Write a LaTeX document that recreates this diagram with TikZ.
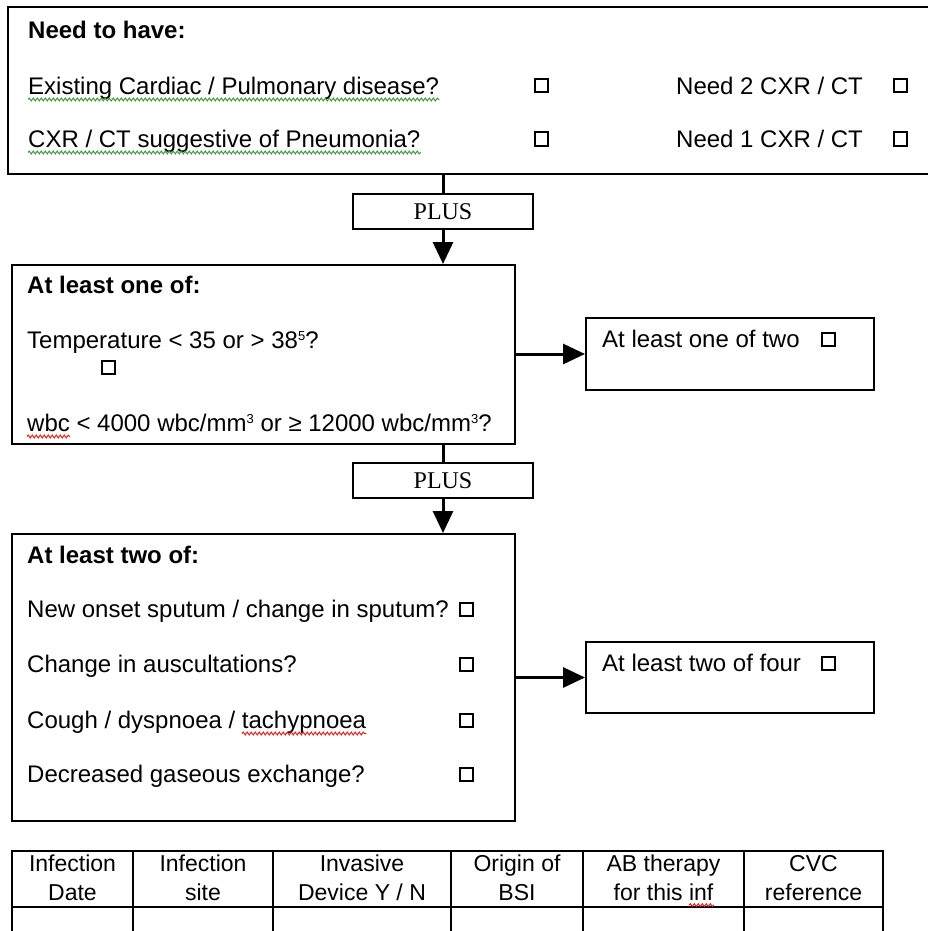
\documentclass[tikz,border=0pt]{standalone}
\usepackage{fontspec}
\setmainfont{Liberation Sans}
\newfontfamily\plusfont{Liberation Serif}
\usetikzlibrary{arrows.meta,positioning,calc,decorations.pathmorphing}
\newcommand{\bodysize}{\fontsize{24}{28}\selectfont}
\newcommand{\tabsize}{\fontsize{23}{29}\selectfont}
\newcommand{\supnum}[1]{\raisebox{8pt}{\fontsize{13}{13}\selectfont #1}}
\definecolor{spellGreen}{HTML}{3C9A3C}
\definecolor{spellRed}{HTML}{E02020}
\tikzset{
  panel/.style={draw, line width=2pt, inner sep=0pt},
  plusbox/.style={draw, line width=1.6pt, minimum width=180pt, minimum height=35pt, inner sep=0pt, font=\bodysize\plusfont},
  txt/.style={anchor=base west, inner sep=0pt, font=\bodysize},
  head/.style={txt, font=\bodysize\bfseries},
  chk/.style={draw, line width=2pt, minimum size=13pt, inner sep=0pt},
  link/.style={line width=3pt},
  flow/.style={line width=3pt, -{Triangle[length=22pt, width=20pt]}},
  spellgreen/.style={draw=spellGreen, line width=1pt, decorate, decoration={snake, amplitude=1.4pt, segment length=4pt}},
  spellred/.style={draw=spellRed, line width=1pt, decorate, decoration={snake, amplitude=1.4pt, segment length=4pt}}
}

\begin{document}
\begin{tikzpicture}[x=1pt, y=-1pt]
\useasboundingbox (0,0) rectangle (928,931);
% need to have
\node[panel, minimum width=921pt, minimum height=167pt] (need) at (468.5,90.5) {};
\node[head] (needhead) at (28,38.5) {Need to have:};
\node[txt] (exist) at (28,94.5) {Existing Cardiac / Pulmonary disease?};
\node[txt] (cxr) at (28,147.5) {CXR / CT suggestive of Pneumonia?};
\node[chk] (cexist) at (541,86) {};
\node[chk] (ccxr) at (541,139) {};
\node[txt] (needtwo) at (676,94.5) {Need 2 CXR / CT};
\node[txt] (needone) at (676,147.5) {Need 1 CXR / CT};
\node[chk] (cneedtwo) at (900,86) {};
\node[chk] (cneedone) at (900,139) {};
\draw[spellgreen] ([yshift=-5pt]exist.base west) -- ([yshift=-5pt]exist.base east);
\draw[spellgreen] ([yshift=-5pt]cxr.base west) -- ([yshift=-5pt]cxr.base east);
% plus
\node[plusbox] (plusA) at (443,211.5) {PLUS};
\draw[link] (plusA.north |- need.south) -- (plusA.north);
% at least one of
\node[panel, minimum width=503pt, minimum height=179pt] (one) at (263.5,354.5) {};
\draw[flow] (plusA.south) -- (plusA.south |- one.north);
\node[head] (onehead) at (27,293.5) {At least one of:};
\node[txt] (temp) at (27,348.5) {Temperature < 35 or > 38\supnum{5}?};
\node[chk] (ctemp) at (108,367) {};
\node[txt] (wbc) at (27,431.5) {wbc < 4000 wbc/mm\supnum{3} or ≥ 12000 wbc/mm\supnum{3}?};
\draw[spellred] ([yshift=-5pt]wbc.base west) -- ++(43,0);
\node[panel, minimum width=288pt, minimum height=72pt] (onetwo) at (730,354) {};
\node[txt] (onetwotext) at (602,347.5) {At least one of two};
\node[chk] (conetwo) at (828,339) {};
\draw[flow] (one.east |- onetwo.west) -- (onetwo.west);
% plus
\node[plusbox] (plusB) at (443,480.5) {PLUS};
\draw[link] (plusB.north |- one.south) -- (plusB.north);
% at least two of
\node[panel, minimum width=503pt, minimum height=287pt] (two) at (263.5,677.5) {};
\draw[flow] (plusB.south) -- (plusB.south |- two.north);
\node[head] (twohead) at (27,563.5) {At least two of:};
\node[txt] (sputum) at (27,617.5) {New onset sputum / change in sputum?};
\node[txt] (ausc) at (27,672.5) {Change in auscultations?};
\node[txt] (cough) at (27,728.5) {Cough / dyspnoea / tachypnoea};
\node[txt] (gas) at (27,782.5) {Decreased gaseous exchange?};
\node[chk] (csputum) at (466,609) {};
\node[chk] (causc) at (466,664) {};
\node[chk] (ccough) at (466,720) {};
\node[chk] (cgas) at (466,774) {};
\draw[spellred] ([xshift=215pt, yshift=-5pt]cough.base west) -- ([yshift=-5pt]cough.base east);
\node[panel, minimum width=288pt, minimum height=71pt] (twofour) at (730,677.5) {};
\node[txt] (twofourtext) at (602,671.5) {At least two of four};
\node[chk] (ctwofour) at (828,663) {};
\draw[flow] (two.east |- twofour.west) -- (twofour.west);
% table
\draw[line width=2pt] (12,851) rectangle (883,960);
\draw[line width=2pt] (12,907) -- (883,907);
\draw[line width=2pt] (133,851) -- (133,960);
\draw[line width=2pt] (273,851) -- (273,960);
\draw[line width=2pt] (451,851) -- (451,960);
\draw[line width=2pt] (583,851) -- (583,960);
\draw[line width=2pt] (744,851) -- (744,960);
\node[align=center, font=\tabsize, inner sep=0pt] (hdate) at (72.5,878) {Infection\\Date};
\node[align=center, font=\tabsize, inner sep=0pt] (hsite) at (203,878) {Infection\\site};
\node[align=center, font=\tabsize, inner sep=0pt] (hdev) at (362,878) {Invasive\\Device Y / N};
\node[align=center, font=\tabsize, inner sep=0pt] (hbsi) at (517,878) {Origin of\\BSI};
\node[align=center, font=\tabsize, inner sep=0pt] (hab) at (663.5,878) {AB therapy\\for this inf};
\node[align=center, font=\tabsize, inner sep=0pt] (hcvc) at (813.5,878) {CVC\\reference};
\draw[spellred] ([xshift=-31.5pt, yshift=-4pt]hab.south east) -- ++(25,0);
\end{tikzpicture}
\end{document}
